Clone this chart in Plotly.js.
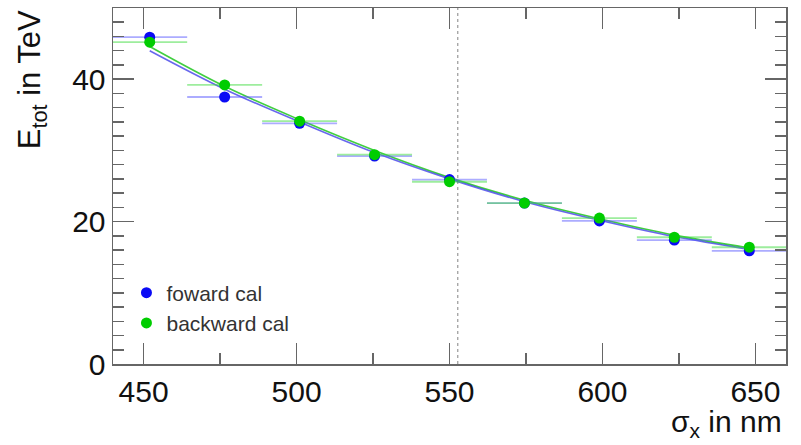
<!DOCTYPE html>
<html>
<head>
<meta charset="utf-8">
<script src="https://cdn.plot.ly/plotly-3.0.1.min.js"></script>
<style>
  html, body { margin: 0; padding: 0; background: #fff; }
  #chart { width: 801px; height: 445px; }
</style>
</head>
<body>
<div id="chart"></div>
<script>
// Beam size scan: total deposited energy vs. sigma_x
const sigmaX = [452, 476.5, 501, 525.5, 550, 574.5, 599, 623.5, 648];
const sigmaXErr = [12.25, 12.25, 12.25, 12.25, 12.25, 12.25, 12.25, 12.25, 12.25];

const forwardE = [45.9, 37.5, 33.8, 29.2, 25.9, 22.6, 20.1, 17.4, 15.9];
const backwardE = [45.2, 39.2, 34.1, 29.4, 25.6, 22.6, 20.5, 17.8, 16.4];

// fitted curves sampled at the scan points
const forwardFit = [44.0, 38.6, 34.0, 29.7, 26.0, 22.8, 20.2, 17.9, 16.1];
const backwardFit = [44.6, 39.0, 34.3, 30.0, 26.2, 23.0, 20.4, 18.1, 16.3];

const nominalSigma = 552.7;

const FONT = 'Liberation Sans, Arial, Helvetica, sans-serif';
const BLUE = 'rgb(10,10,245)';
const GREEN = 'rgb(0,205,0)';

const traces = [
  {
    x: sigmaX, y: backwardFit, mode: 'lines', line: {color: 'rgba(0,190,0,0.75)', width: 1.6, shape: 'spline'},
    showlegend: false, hoverinfo: 'skip'
  },
  {
    x: sigmaX, y: forwardFit, mode: 'lines', line: {color: 'rgba(40,40,230,0.7)', width: 1.6, shape: 'spline'},
    showlegend: false, hoverinfo: 'skip'
  },
  {
    name: 'foward cal', x: sigmaX, y: forwardE, mode: 'markers',
    marker: {color: BLUE, size: 11},
    error_x: {type: 'data', array: sigmaXErr, visible: true, color: 'rgba(90,90,255,0.5)', thickness: 1.8, width: 0}
  },
  {
    name: 'backward cal', x: sigmaX, y: backwardE, mode: 'markers',
    marker: {color: GREEN, size: 11},
    error_x: {type: 'data', array: sigmaXErr, visible: true, color: 'rgba(60,220,60,0.5)', thickness: 1.8, width: 0}
  }
];

const axisCommon = {
  showgrid: false, zeroline: false, showline: true, linecolor: '#666', linewidth: 1.5,
  mirror: 'ticks', ticks: 'inside', tickcolor: '#666', tickwidth: 1.5,
  tickfont: {family: FONT, size: 30, color: '#111'}
};

const layout = {
  width: 801, height: 445,
  margin: {l: 113, r: 15, t: 8, b: 81},
  paper_bgcolor: '#fff', plot_bgcolor: '#fff',
  showlegend: true,
  legend: {
    x: 0.02, y: 0.257, xanchor: 'left', yanchor: 'top',
    bgcolor: 'rgba(0,0,0,0)', font: {family: FONT, size: 21, color: '#333'},
    tracegroupgap: 0
  },
  xaxis: Object.assign({}, axisCommon, {
    range: [440, 660], tickvals: [450, 500, 550, 600, 650], ticklen: 21,
    minor: {dtick: 25, tick0: 450, ticks: 'inside', ticklen: 11, tickcolor: '#666', tickwidth: 1.5}
  }),
  yaxis: Object.assign({}, axisCommon, {
    range: [0, 50], tickvals: [0, 20, 40], ticklen: 21,
    minor: {dtick: 2, tick0: 0, ticks: 'inside', ticklen: 11, tickcolor: '#666', tickwidth: 1.5}
  }),
  shapes: [{
    type: 'line', xref: 'x', yref: 'paper', x0: nominalSigma, x1: nominalSigma, y0: 0, y1: 1,
    line: {color: '#999', width: 1.2, dash: 'dot'}, layer: 'below'
  }],
  annotations: [
    {
      text: 'E<sub>tot</sub> in TeV', xref: 'paper', yref: 'paper', x: -0.088, y: 1.0,
      xanchor: 'right', yanchor: 'top', textangle: -90, showarrow: false,
      font: {family: FONT, size: 31, color: '#111'}
    },
    {
      text: 'σ<sub>x</sub> in nm', xref: 'paper', yref: 'paper', x: 0.997, y: -0.11,
      xanchor: 'right', yanchor: 'top', showarrow: false,
      font: {family: FONT, size: 30, color: '#111'}
    }
  ]
};

Plotly.newPlot('chart', traces, layout, {displayModeBar: false, staticPlot: true});
</script>
</body>
</html>
